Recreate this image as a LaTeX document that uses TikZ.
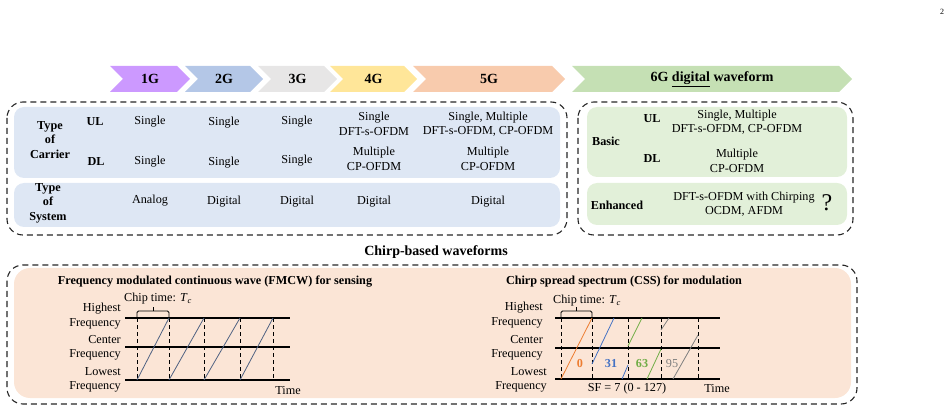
\documentclass[tikz,border=0pt]{standalone}
\usepackage{fontspec}
\setmainfont{Liberation Serif}
\usetikzlibrary{positioning}
\definecolor{gone}{HTML}{CC99FF}
\definecolor{gtwo}{HTML}{B4C7E7}
\definecolor{gthree}{HTML}{E7E6E6}
\definecolor{gfour}{HTML}{FFE699}
\definecolor{gfive}{HTML}{F8CBAD}
\definecolor{gsix}{HTML}{C5E0B4}
\definecolor{cblue}{HTML}{DEE7F4}
\definecolor{cgreen}{HTML}{E2F0D9}
\definecolor{cpeach}{HTML}{FBE5D6}
\definecolor{cslate}{HTML}{4F6282}
\definecolor{corange}{HTML}{ED7D31}
\definecolor{cblu}{HTML}{4472C4}
\definecolor{cgrn}{HTML}{70AD47}
\definecolor{cgry}{HTML}{7F7F7F}
\begin{document}
\begin{tikzpicture}[x=1pt,y=-1pt,
  every node/.style={font=\fontsize{12.2}{14.5}\selectfont,inner sep=0pt,align=center},
  hd/.style={font=\fontsize{12.2}{14.5}\selectfont\bfseries},
  gen/.style={font=\fontsize{14}{16}\selectfont\bfseries},
  frame/.style={draw=black!85,dash pattern=on 6pt off 4pt,line width=1.1pt,rounded corners=16pt},
  panel/.style={rounded corners=10pt},
  axis/.style={line width=1.6pt},
  gridline/.style={dash pattern=on 4pt off 3pt,line width=0.6pt},
  chirp/.style={line width=0.8pt},
  brace/.style={line width=0.8pt,rounded corners=1.5pt}]
  \useasboundingbox (0,0) rectangle (952,411);
  \node[font=\fontsize{8}{9}\selectfont] (page) at (942,12) {2};

  \foreach \a/\b/\c/\n in {110/190/gone/1G,185/263/gtwo/2G,258/337/gthree/3G,330/417/gfour/4G,413/565/gfive/5G}{
    \fill[\c] (\a,66) -- (\b-13,66) -- (\b,79) -- (\b-13,92) -- (\a,92) -- (\a+13,79) -- cycle;
    \node[gen] (g\n) at ({(\a+\b)/2},79) {\n};
  }
  \fill[gsix] (572,66) -- (839,66) -- (852,79) -- (839,92) -- (572,92) -- (585,79) -- cycle;
  \node[gen] (g6G) at (712,79) {6G \underline{digital} waveform};

  \fill[cblue,panel] (14,107) rectangle (560,178);
  \fill[cblue,panel] (14,183) rectangle (560,227);
  \draw[frame] (7,102) rectangle (567,235);
  \node[hd] (carrier) at (50,140) {Type\\of\\Carrier};
  \node[hd] (ul)      at (95,122) {UL};
  \node[hd] (dl)      at (96,162) {DL};
  \node[hd] (system)  at (48,203) {Type\\of\\System};
  \node (ulA) at (150,122) {Single};
  \node (dlA) at (150,162) {Single};
  \node (syA) at (150,201) {Analog};
  \node (ulB) at (224,123) {Single};
  \node (dlB) at (224,163) {Single};
  \node (syB) at (224,202) {Digital};
  \node (ulC) at (297,122) {Single};
  \node (dlC) at (297,161) {Single};
  \node (syC) at (297,202) {Digital};
  \node (ulD) at (374,124) {Single\\DFT-s-OFDM};
  \node (dlD) at (374,159) {Multiple\\CP-OFDM};
  \node (syD) at (374,202) {Digital};
  \node (ulE) at (488,124) {Single, Multiple\\DFT-s-OFDM, CP-OFDM};
  \node (dlE) at (488,159) {Multiple\\CP-OFDM};
  \node (syE) at (488,202) {Digital};

  \fill[cgreen,panel] (587,107) rectangle (847,177);
  \fill[cgreen,panel] (587,183) rectangle (847,225);
  \draw[frame] (578,102) rectangle (853,235);
  \node[hd] (basic)    at (606,141) {Basic};
  \node[hd] (ulF)      at (652,119) {UL};
  \node[hd] (dlF)      at (652,159) {DL};
  \node (ulG) at (737,122) {Single, Multiple\\DFT-s-OFDM, CP-OFDM};
  \node (dlG) at (737,161) {Multiple\\CP-OFDM};
  \node[hd] (enhanced) at (617,205) {Enhanced};
  \node (enh) at (744,204) {DFT-s-OFDM with Chirping\\OCDM, AFDM};
  \node[font=\fontsize{24}{26}\selectfont] (quest) at (827,203) {?};

  \node[gen] (chirptitle) at (436,252) {Chirp-based waveforms};
  \fill[cpeach,rounded corners=16pt] (14,268) rectangle (851,398);
  \draw[frame] (7,265) rectangle (857,404);
  \node[hd] (fmcw) at (215,282) {Frequency modulated continuous wave (FMCW) for sensing};
  \node[hd] (css)  at (624,282) {Chirp spread spectrum (CSS) for modulation};

  \foreach \y in {318,347,380} \draw[axis] (125,\y) -- (290,\y);
  \foreach \x in {137,169,204,240,273} \draw[gridline] (\x,318) -- (\x,380);
  \foreach \a/\b in {137/169,169/204,204/240,240/273} \draw[chirp,cslate] (\a,380) -- (\b,318);
  \draw[brace] (137,318) -- (137,311) -- (169,311) -- (169,318);
  \draw[brace] (153,311) -- (153,307);
  \node (tcA) at (158,299) {Chip time: \textit{T}\textsubscript{\textit{c}}};
  \node[anchor=east,align=right] (hiA) at (121,316) {Highest\\Frequency};
  \node[anchor=east,align=right] (ceA) at (121,348) {Center\\Frequency};
  \node[anchor=east,align=right] (loA) at (121,380) {Lowest\\Frequency};
  \node (timeA) at (288,391) {Time};

  \foreach \y in {318,348,379} \draw[axis] (555,\y) -- (720,\y);
  \foreach \x in {561,592,628,661,698} \draw[gridline] (\x,318) -- (\x,379);
  \draw[chirp,corange] (561,379) -- (592,318);
  \draw[chirp,cblu] (592,364) -- (614,318) (622,379) -- (628,365);
  \draw[chirp,cgrn] (628,346) -- (642,318) (647,379) -- (661,349);
  \draw[chirp,cgry] (661,330) -- (669,318) (673,379) -- (698,335);
  \draw[brace] (561,318) -- (561,311) -- (592,311) -- (592,318);
  \draw[brace] (576,311) -- (576,307);
  \node (tcB) at (587,301) {Chip time: \textit{T}\textsubscript{\textit{c}}};
  \node[anchor=east,align=right] (hiB) at (543,315) {Highest\\Frequency};
  \node[anchor=east,align=right] (ceB) at (543,348) {Center\\Frequency};
  \node[anchor=east,align=right] (loB) at (547,380) {Lowest\\Frequency};
  \node[hd,corange] (s0)  at (580,364) {0};
  \node[hd,cblu]    (s31) at (611,364) {31};
  \node[hd,cgrn]    (s63) at (642,364) {63};
  \node[cgry]       (s95) at (672,364) {95};
  \node (sf) at (627,389) {SF = 7 (0 - 127)};
  \node (timeB) at (717,389) {Time};
\end{tikzpicture}
\end{document}
